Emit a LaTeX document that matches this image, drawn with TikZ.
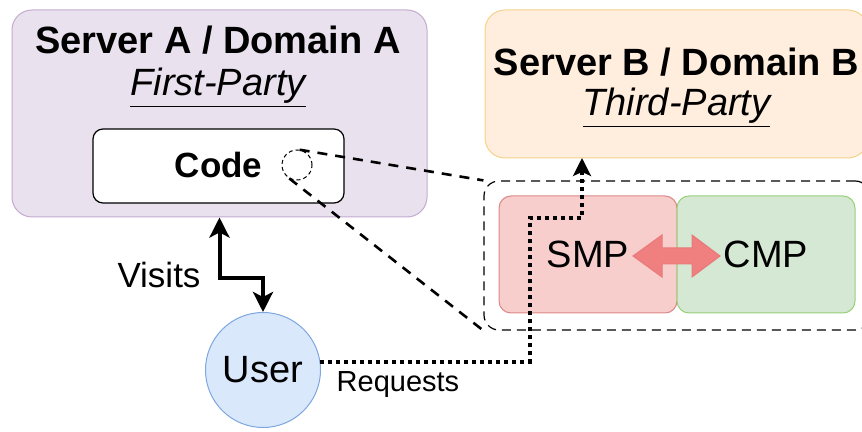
\documentclass[tikz,border=0pt]{standalone}
\usepackage{fontspec}
\setmainfont{Liberation Sans}
\usetikzlibrary{calc}
\usetikzlibrary{arrows}
\usetikzlibrary{arrows.meta}
\usepackage{xcolor}

\definecolor{purpleFill}{HTML}{EAE1EF}
\definecolor{purpleLine}{HTML}{C3ABD0}
\definecolor{orangeFill}{HTML}{FFEEDD}
\definecolor{orangeLine}{HTML}{F5D28A}
\definecolor{redFill}{HTML}{F8CECC}
\definecolor{redLine}{HTML}{D98886}
\definecolor{greenFill}{HTML}{D5E8D4}
\definecolor{greenLine}{HTML}{97D077}
\definecolor{blueFill}{HTML}{DAE8FC}
\definecolor{blueLine}{HTML}{7EA6E0}
\definecolor{arrowFill}{HTML}{F08080}
\definecolor{arrowLine}{HTML}{E87A7A}

\newcommand{\titlesize}{\fontsize{19pt}{22pt}\selectfont}
\newcommand{\labelsize}{\fontsize{17.5pt}{20pt}\selectfont}
\newcommand{\smallsize}{\fontsize{14.5pt}{17pt}\selectfont}

\tikzset{
  server/.style={draw, line width=.5pt, rounded corners=10pt, inner sep=0},
  module/.style={draw, line width=.5pt, rounded corners=6pt, inner sep=0,
    minimum width=89pt, minimum height=58.5pt, font=\titlesize},
  txt/.style={inner sep=0, text=black},
  link/.style={line width=1.3pt, dash pattern=on 5pt off 4pt},
  req/.style={line width=2pt, dash pattern=on 2pt off 2pt}
}

\begin{document}
\begin{tikzpicture}[x=.5pt, y=-.5pt]
\useasboundingbox (0,0) rectangle (862,432);

% server boxes
\node[server, fill=purpleFill, draw=purpleLine, minimum width=207.5pt, minimum height=103.5pt] (serverA) at (219.5,113.5) {};
\node[server, fill=orangeFill, draw=orangeLine, minimum width=191.5pt, minimum height=74pt] (serverB) at (676.5,84) {};
\node[txt, font=\titlesize\bfseries] (titleA) at (218,40) {Server A / Domain A};
\node[txt, font=\titlesize\itshape] (partyA) at (218,88) {\underline{First-Party}};
\node[txt, font=\titlesize\bfseries] (titleB) at (676.5,62) {Server B / Domain B};
\node[txt, font=\titlesize\itshape] (partyB) at (676.5,108) {\underline{Third-Party}};

% code box
\node[draw, fill=white, line width=.6pt, rounded corners=5pt, minimum width=125.5pt, minimum height=37pt, inner sep=0] (code) at (218.5,166) {};
\node[txt, font=\labelsize\bfseries] (codeText) at (218.5,165) {Code};
\node[circle, draw, line width=.5pt, dash pattern=on 2pt off 1.5pt, minimum size=15pt, inner sep=0] (codeDot) at (297,165) {};

% embedded managers
\node[draw, line width=.6pt, dash pattern=on 4.5pt off 3pt, rounded corners=7.5pt, minimum width=193pt, minimum height=74.5pt, inner sep=0] (group) at (677,255.5) {};
\node[module, fill=redFill, draw=redLine] (smp) at (588,254.5) {SMP};
\node[module, fill=greenFill, draw=greenLine] (cmp) at (766,254.5) {CMP};
\draw[fill=arrowFill, draw=arrowLine, line width=.5pt]
  (633,256) -- (662,235) -- (662,248) -- (692,248) -- (692,235) -- (720,256)
  -- (692,277) -- (692,264) -- (662,264) -- (662,277) -- cycle;

% user
\node[circle, draw=blueLine, fill=blueFill, line width=.5pt, minimum size=57.5pt, inner sep=0, font=\titlesize] (user) at (263,370) {User};

% connectors
\draw[link] (codeDot.80) -- (group.north west);
\draw[link] (codeDot.-120) -- (group.south west);
\draw[line width=2pt, {Stealth[length=10pt,width=10pt,inset=2.5pt]}-{Stealth[length=10pt,width=10pt,inset=2.5pt]}]
  (serverA.south) -- ++(0,61) -| (user.north);
\node[txt, font=\labelsize] (visits) at (159,275) {Visits};

\coordinate (reqBend) at (530,218);
\coordinate (reqEnd) at (582,158);
\draw[req] (user.8) -| (reqBend) -| ($(reqEnd)+(0,12)$);
\draw[line width=1.5pt, -{Stealth[length=9pt,width=9pt,inset=2pt]}] ($(reqEnd)+(0,14)$) -- (reqEnd);
\node[txt, font=\smallsize] (requests) at (398,385) {Requests};
\end{tikzpicture}
\end{document}
